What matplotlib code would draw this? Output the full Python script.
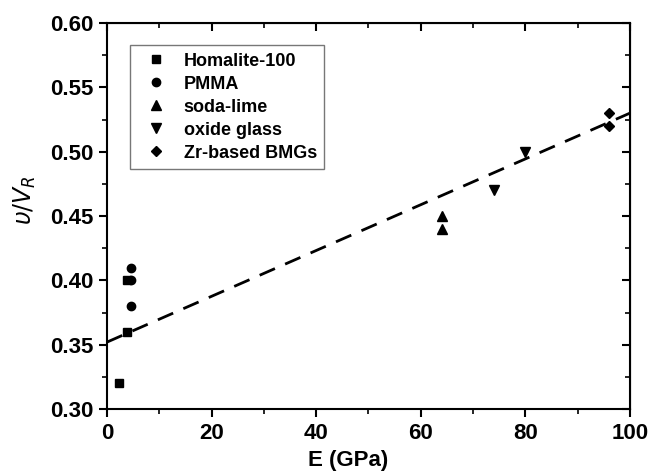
import matplotlib
matplotlib.use("Agg")
import matplotlib.pyplot as plt
from matplotlib.ticker import MultipleLocator

plt.rcParams['font.family'] = ['Liberation Sans', 'DejaVu Sans']

homalite_E = [2.3, 3.9, 3.9]
homalite_v = [0.32, 0.36, 0.40]
pmma_E = [4.5, 4.5, 4.5]
pmma_v = [0.41, 0.40, 0.38]
soda_E = [64, 64]
soda_v = [0.45, 0.44]
oxide_E = [74, 80]
oxide_v = [0.47, 0.50]
zr_E = [96, 96]
zr_v = [0.53, 0.52]
fit_E = [0, 100]
fit_v = [0.352, 0.530]

fig = plt.figure(figsize=(6.5, 4.72), dpi=100)
ax = fig.add_axes([0.1646, 0.1335, 0.969 - 0.1646, 0.951 - 0.1335])

ms = 6
ax.plot(homalite_E, homalite_v, 's', color='black', ms=ms, label='Homalite-100')
ax.plot(pmma_E, pmma_v, 'o', color='black', ms=ms, label='PMMA')
ax.plot(soda_E, soda_v, '^', color='black', ms=ms+1, label='soda-lime')
ax.plot(oxide_E, oxide_v, 'v', color='black', ms=ms+1, label='oxide glass')
ax.plot(zr_E, zr_v, 'D', color='black', ms=ms-0.5, label='Zr-based BMGs')
ax.plot(fit_E, fit_v, '--', color='black', lw=2, dashes=(6, 4))

ax.set_xlim(0, 100)
ax.set_ylim(0.30, 0.60)
ax.xaxis.set_major_locator(MultipleLocator(20))
ax.xaxis.set_minor_locator(MultipleLocator(10))
ax.yaxis.set_minor_locator(MultipleLocator(0.025))
ax.set_yticks([0.30, 0.35, 0.40, 0.45, 0.50, 0.55, 0.60])
ax.set_yticklabels(['0.30', '0.35', '0.40', '0.45', '0.50', '0.55', '0.60'])

for s in ax.spines.values():
    s.set_linewidth(1.5)
ax.tick_params(which='major', direction='out', length=6, width=1.5, labelsize=16, pad=4)
ax.tick_params(which='minor', direction='out', length=3.5, width=1.2)
for lab in ax.get_xticklabels() + ax.get_yticklabels():
    lab.set_fontweight('bold')

# right / top inward ticks
axr = ax.secondary_yaxis('right')
axr.yaxis.set_major_locator(MultipleLocator(0.05))
axr.yaxis.set_minor_locator(MultipleLocator(0.025))
axr.tick_params(which='major', direction='in', length=6, width=1.5, labelright=False)
axr.tick_params(which='minor', direction='in', length=3.5, width=1.2)
axt = ax.secondary_xaxis('top')
axt.xaxis.set_major_locator(MultipleLocator(20))
axt.xaxis.set_minor_locator(MultipleLocator(10))
axt.tick_params(which='major', direction='in', length=6, width=1.5, labeltop=False)
axt.tick_params(which='minor', direction='in', length=3.5, width=1.2)

ax.set_xlabel('E (GPa)', fontsize=16, fontweight='bold')
ax.xaxis.set_label_coords(0.461, -0.105)
ax.set_ylabel(r'$\upsilon/V_R$', fontsize=17)
ax.yaxis.set_label_coords(-0.132, 0.54)

leg = ax.legend(loc='upper left', bbox_to_anchor=(0.044, 0.943), fontsize=13,
                frameon=True, fancybox=False, edgecolor='#555555',
                handletextpad=0.55, borderpad=0.42, labelspacing=0.33,
                handlelength=2.0, borderaxespad=0)
leg.get_frame().set_linewidth(1.0)
for t in leg.get_texts():
    t.set_fontweight('bold')

fig.savefig('out.png', dpi=100)
